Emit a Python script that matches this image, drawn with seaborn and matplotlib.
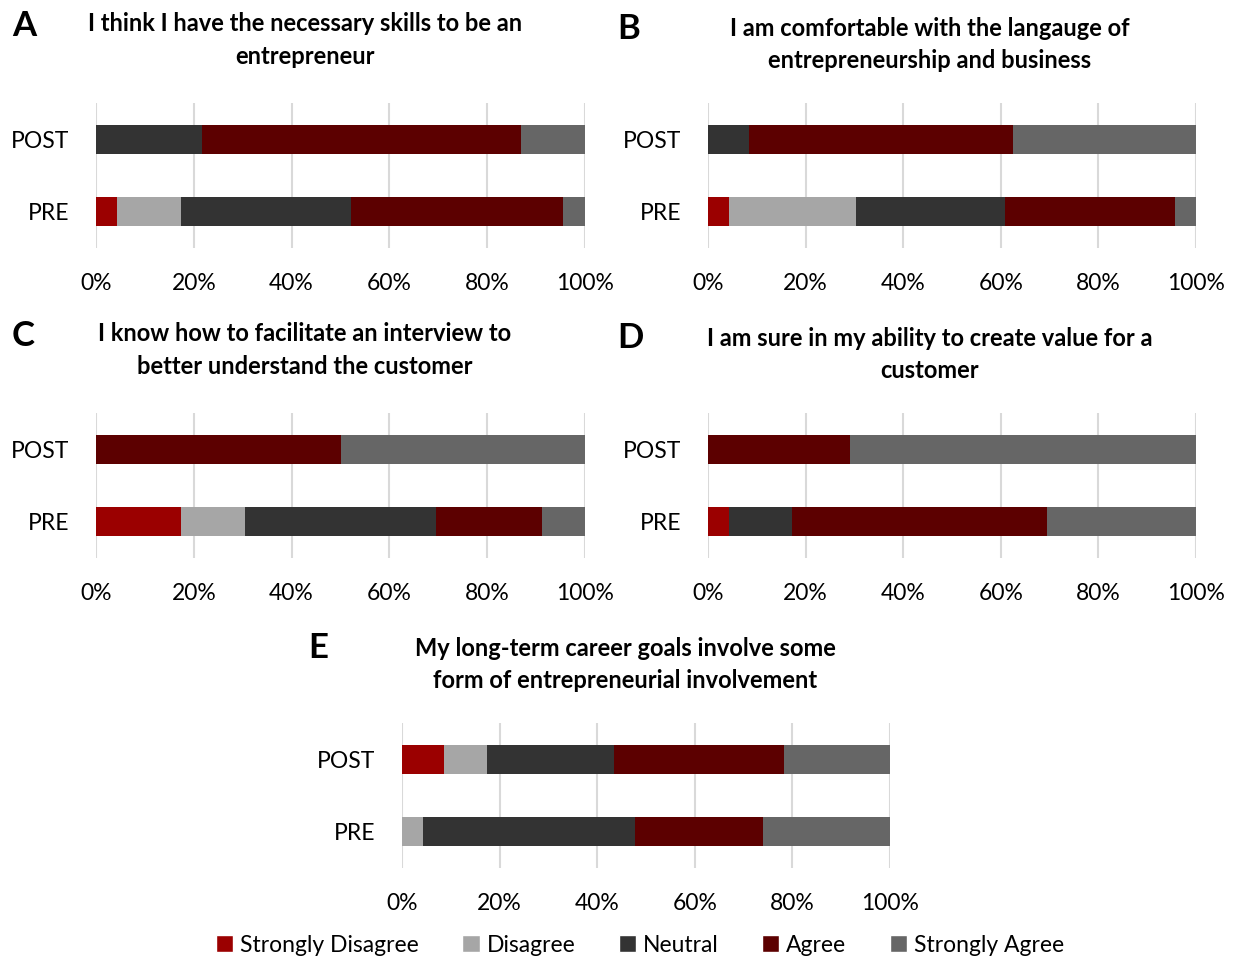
import numpy as np
import pandas as pd
import seaborn as sns
from matplotlib import pyplot as plt
from matplotlib.patches import Patch

# response levels and colours
levels = ['Strongly Disagree', 'Disagree', 'Neutral', 'Agree', 'Strongly Agree']
colors = ['#9b0000', '#a6a6a6', '#333333', '#5c0000', '#666666']
phases = ['POST', 'PRE']

# percent of respondents per level, POST then PRE
a_post = [0, 0, 21.7, 65.2, 13.1]
a_pre = [4.3, 13.0, 34.8, 43.5, 4.4]
b_post = [0, 0, 8.3, 54.2, 37.5]
b_pre = [4.3, 26.1, 30.4, 34.8, 4.4]
c_post = [0, 0, 0, 50.0, 50.0]
c_pre = [17.4, 13.0, 39.1, 21.7, 8.8]
d_post = [0, 0, 0, 29.2, 70.8]
d_pre = [4.3, 0, 13.0, 52.2, 30.5]
e_post = [8.7, 8.7, 26.1, 34.8, 21.7]
e_pre = [0, 4.3, 43.5, 26.1, 26.1]

titles = {
    'A': 'I think I have the necessary skills to be an\nentrepreneur',
    'B': 'I am comfortable with the langauge of\nentrepreneurship and business',
    'C': 'I know how to facilitate an interview to\nbetter understand the customer',
    'D': 'I am sure in my ability to create value for a\ncustomer',
    'E': 'My long-term career goals involve some\nform of entrepreneurial involvement',
}
panels = {'A': (a_post, a_pre), 'B': (b_post, b_pre), 'C': (c_post, c_pre),
          'D': (d_post, d_pre), 'E': (e_post, e_pre)}

sns.set_theme(style='white')
plt.rcParams['font.family'] = ['Lato', 'DejaVu Sans']
plt.rcParams['text.color'] = 'black'
plt.rcParams['xtick.color'] = 'black'
plt.rcParams['ytick.color'] = 'black'

W, H = 1238, 959
fig = plt.figure(figsize=(W / 100, H / 100), dpi=100)

# pixel boxes: left, top, right, bottom ; title centre x, title top y ; letter x, y
layout = {
    'A': (96, 103, 585, 248, 305, 12, 12, 10),
    'B': (708, 103, 1196, 248, 930, 17, 617, 13),
    'C': (96, 413, 585, 558, 305, 322, 12, 320),
    'D': (708, 413, 1196, 558, 930, 327, 617, 322),
    'E': (402, 723, 890, 868, 625, 637, 308, 632),
}

for key, (post, pre) in panels.items():
    l, t, r, b, tx, ty, lx, ly = layout[key]
    ax = fig.add_axes([l / W, 1 - b / H, (r - l) / W, (b - t) / H])
    df = pd.DataFrame({'phase': np.repeat(phases, len(levels)),
                       'level': levels * 2,
                       'pct': post + pre})
    df['cum'] = df.groupby('phase')['pct'].cumsum()
    # draw cumulative bars from the widest down so they stack
    for lev, col in reversed(list(zip(levels, colors))):
        sub = df[df.level == lev]
        sns.barplot(data=sub, x='cum', y='phase', order=phases, color=col,
                    orient='h', width=0.4, ax=ax, saturation=1, linewidth=0)
    ax.set_xlim(0, 100)
    ax.set_ylim(1.5, -0.5)
    ax.set_xticks([0, 20, 40, 60, 80, 100])
    ax.set_xticklabels([f'{v}%' for v in range(0, 101, 20)])
    ax.xaxis.grid(True, color='#d9d9d9', linewidth=1.5)
    ax.set_axisbelow(True)
    ax.set_xlabel('')
    ax.set_ylabel('')
    ax.tick_params(axis='x', labelsize=16.5, pad=18, length=0)
    ax.tick_params(axis='y', labelsize=16.5, pad=19, length=0)
    sns.despine(ax=ax, left=True, bottom=True)
    fig.text(tx / W, 1 - ty / H, titles[key], ha='center', va='top',
             fontsize=17, fontweight='bold', linespacing=1.5)
    fig.text(lx / W, 1 - ly / H, key, ha='left', va='top',
             fontsize=25, fontweight='bold')

handles = [Patch(facecolor=c, label=lv) for lv, c in zip(levels, colors)]
fig.legend(handles=handles, loc='center', bbox_to_anchor=(640 / W, 1 - 945 / H),
           ncol=5, frameon=False, fontsize=16.5, handlelength=0.75, handleheight=0.75,
           handletextpad=0.3, columnspacing=1.9)

fig.savefig('out.png', dpi=100)
